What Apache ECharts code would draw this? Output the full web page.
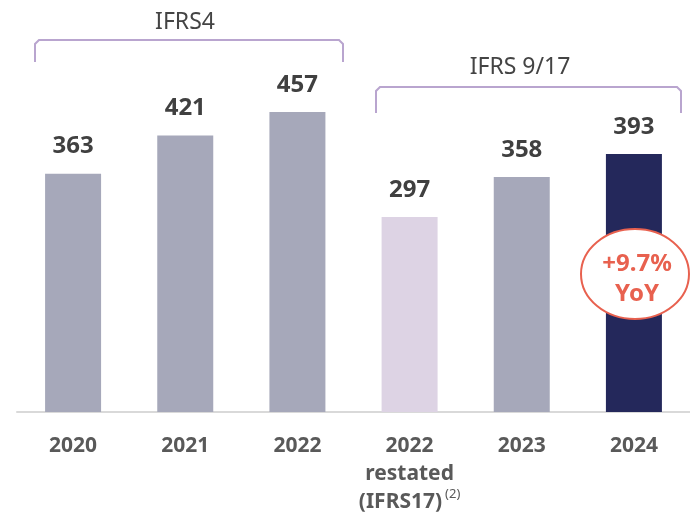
<!DOCTYPE html>
<html>
<head>
<meta charset="utf-8">
<script src="https://cdn.jsdelivr.net/npm/echarts@6/dist/echarts.min.js"></script>
<style>html,body{margin:0;padding:0;background:#fff;}#c{width:690px;height:517px;}</style>
</head>
<body>
<div id="c"></div>
<script>
var categories = ['2020', '2021', '2022', '2022 restated', '2023', '2024'];
var values = [363, 421, 457, 297, 358, 393];
var barColors = ['#a6a8ba', '#a6a8ba', '#a6a8ba', '#ddd3e4', '#a6a8ba', '#24285b'];
var groupLabels = ['IFRS4', 'IFRS 9/17'];
var yoyLabel = ['+9.7%', 'YoY'];

var FONT = '"Noto Sans", sans-serif';
var chart = echarts.init(document.getElementById('c'), null, {renderer: 'canvas'});

var bracketColor = '#b9a5cf';
var accent = '#e8614f';

chart.setOption({
  animation: false,
  backgroundColor: '#ffffff',
  grid: {left: 17, top: 18, width: 675, height: 394, containLabel: false},
  xAxis: {
    type: 'category',
    data: categories,
    axisLine: {show: true, lineStyle: {color: '#d9d9d9', width: 2}},
    axisTick: {show: false},
    axisLabel: {
      margin: 20,
      interval: 0,
      fontFamily: FONT,
      fontSize: 21,
      fontWeight: 'bold',
      color: '#595959',
      lineHeight: 28,
      formatter: function (v) {
        if (v === '2022 restated') return '2022\nrestated\n(IFRS17){sup|(2)}';
        return v;
      },
      rich: {
        sup: {fontSize: 13, fontFamily: FONT, fontWeight: 'normal', color: '#595959', verticalAlign: 'top', lineHeight: 28, padding: [0, 0, 12, 3]}
      }
    }
  },
  yAxis: {
    type: 'value', min: 0, max: 600,
    show: false, splitLine: {show: false}
  },
  series: [{
    type: 'bar',
    barWidth: 56,
    data: values.map(function (v, i) { return {value: v, itemStyle: {color: barColors[i]}}; }),
    label: {
      show: true, position: 'top', distance: 15,
      fontFamily: FONT, fontSize: 24, fontWeight: 'bold', color: '#404040'
    }
  }],
  graphic: [
    {type: 'polyline', shape: {points: [[35, 62], [35, 44], [39, 40], [339, 40], [343, 44], [343, 62]]},
     style: {stroke: bracketColor, lineWidth: 2, fill: null}},
    {type: 'text', x: 185, y: 22, style: {text: groupLabels[0], fontFamily: FONT, fontSize: 23, fill: '#444', align: 'center', verticalAlign: 'middle'}},
    {type: 'polyline', shape: {points: [[376, 113], [376, 91], [380, 87], [677, 87], [681, 91], [681, 113]]},
     style: {stroke: bracketColor, lineWidth: 2, fill: null}},
    {type: 'text', x: 520, y: 67, style: {text: groupLabels[1], fontFamily: FONT, fontSize: 23, fill: '#444', align: 'center', verticalAlign: 'middle'}},
    {type: 'ellipse', shape: {cx: 635, cy: 274, rx: 54, ry: 45}, style: {fill: '#ffffff', stroke: accent, lineWidth: 2}, z: 100},
    {type: 'text', x: 637, y: 264, z: 101, style: {text: yoyLabel[0], fontFamily: FONT, fontSize: 24, fontWeight: 'bold', fill: accent, align: 'center', verticalAlign: 'middle'}},
    {type: 'text', x: 637, y: 294, z: 101, style: {text: yoyLabel[1], fontFamily: FONT, fontSize: 24, fontWeight: 'bold', fill: accent, align: 'center', verticalAlign: 'middle'}}
  ]
});
</script>
</body>
</html>
